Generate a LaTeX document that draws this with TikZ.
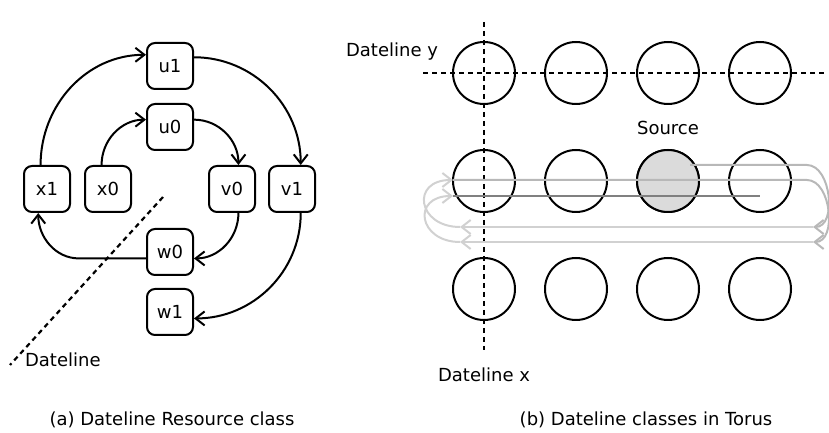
\documentclass[tikz,border=0pt]{standalone}
\usepackage{fontspec}
\setmainfont{DejaVu Sans}
\usetikzlibrary{arrows.meta}
\definecolor{srcgray}{gray}{0.86}
\definecolor{wrapgray}{gray}{0.72}
\definecolor{backgray}{gray}{0.82}
\definecolor{lastgray}{gray}{0.5}

\begin{document}
\begin{tikzpicture}[x=10pt,y=10pt,
    font=\fontsize{9}{10.5}\selectfont,
    vc/.style={draw,line width=1pt,rounded corners=4pt,minimum size=23pt,inner sep=0pt},
    hop/.style={line width=1pt,-{Straight Barb[length=4.5pt,width=7pt]}},
    router/.style={draw,circle,line width=1pt,minimum size=31pt,inner sep=0pt},
    dline/.style={line width=1.1pt,dash pattern=on 2.5pt off 2pt},
    wrap/.style={line width=1pt,-{Straight Barb[length=4.5pt,width=7pt]}}]
      \useasboundingbox (0,0) rectangle (41.45,21.65);
      % (a) virtual channels
      \node[vc] (u1) at (8.5,18.35) {u1};
      \node[vc] (u0) at (8.5,15.3) {u0};
      \node[vc] (x1) at (2.35,12.2) {x1};
      \node[vc] (x0) at (5.4,12.2) {x0};
      \node[vc] (v0) at (11.6,12.2) {v0};
      \node[vc] (v1) at (14.6,12.2) {v1};
      \node[vc] (w0) at (8.5,9.05) {w0};
      \node[vc] (w1) at (8.5,6.05) {w1};
      \draw[hop] (x1.105) to[out=90,in=180] (u1.155);
      \draw[hop] (u1.20) to[out=0,in=90] (v1.70);
      \draw[hop] (x0.105) to[out=90,in=180] (u0.163);
      \draw[hop] (u0.17) to[out=0,in=90] (v0.75);
      \draw[hop] (v0.285) to[out=-90,in=0] (w0.345);
      \draw[hop] (w0.195) -- ++(-3.35,0) to[out=180,in=-90] (x1.250);
      \draw[hop] (v1.290) to[out=-90,in=0] (w1.345);
      \draw[dline] (8.15,11.8) coordinate (dlTop) -- (0.5,3.4) coordinate (dlEnd);
      \node[anchor=west] (dlText) at (0.9,3.65) {Dateline};
      \node (capA) at (8.6,0.65) {(a) Dateline Resource class};
      % (b) torus
      \foreach \row/\ry in {1/18.0,2/12.6,3/7.2}
        \foreach \col/\cx in {1/24.2,2/28.8,3/33.4,4/38.0}
          \node[router] (r\row\col) at (\cx,\ry) {};
      \node[router,fill=srcgray] at (r23) {};
      \draw[dline] (21.15,18.0) -- (41.25,18.0);
      \draw[dline] (24.2,20.55) -- (24.2,4.15);
      \node (datey) at (19.6,19.05) {Dateline y};
      \node (datex) at (24.2,2.9) {Dateline x};
      \node (source) at (33.4,15.25) {Source};
      %\draw route around the ring
      \draw[wrap,wrapgray] (34.5,13.4) -- (40.35,13.4) to[out=0,in=0] (40.65,10.3);
      \draw[wrap,backgray] (40.65,10.3) -- (23.0,10.3);
      \draw[wrap,backgray] (23.0,10.3) to[out=180,in=180,looseness=2.3] (22.65,12.65);
      \draw[wrap,wrapgray] (22.65,12.65) -- (40.35,12.65) to[out=0,in=0] (40.65,9.55);
      \draw[wrap,backgray] (40.65,9.55) -- (23.0,9.55);
      \draw[wrap,backgray] (23.0,9.55) to[out=180,in=180,looseness=2.3] (22.65,11.85);
      \draw[line width=1pt,lastgray] (22.65,11.85) -- (38.0,11.85);
      \node (capB) at (32.3,0.65) {(b) Dateline classes in Torus};
\end{tikzpicture}
\end{document}
